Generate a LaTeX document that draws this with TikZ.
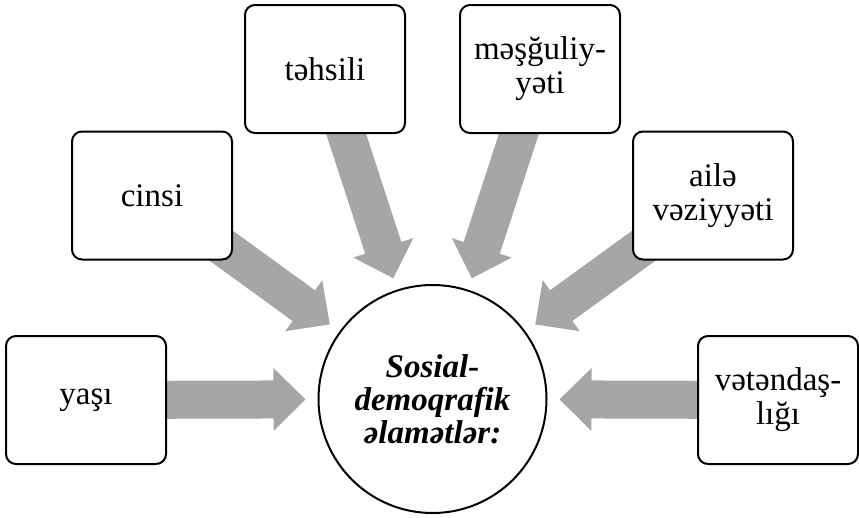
\documentclass[tikz,border=0pt]{standalone}
\usepackage{fontspec}
\setmainfont{Liberation Serif}
\usetikzlibrary{calc,backgrounds}
\definecolor{arrowgray}{HTML}{A6A6A6}
\tikzset{
  itembox/.style={draw=black, line width=2pt, rounded corners=10pt, fill=white,
    minimum width=160pt, minimum height=128pt, align=center, inner sep=2pt,
    font=\fontsize{33}{34}\selectfont},
  hubcircle/.style={draw=black, line width=2pt, circle, fill=white, minimum size=228pt,
    align=center, inner sep=0pt, font=\fontsize{33}{33}\selectfont\bfseries\itshape},
}
\newcommand\radarrow[1]{%
  \coordinate (t#1) at ($(hub.center)!127pt!(#1.center)$);
  \coordinate (h#1) at ($(t#1)!32pt!(#1.center)$);
  \fill[arrowgray] ($(#1.center)!19pt!90:(t#1)$) -- ($(h#1)!19pt!90:(t#1)$)
    -- ($(h#1)!31.5pt!90:(t#1)$) -- (t#1) -- ($(h#1)!31.5pt!-90:(t#1)$)
    -- ($(h#1)!19pt!-90:(t#1)$) -- ($(#1.center)!19pt!-90:(t#1)$) -- cycle;}
\begin{document}
\begin{tikzpicture}[x=1pt, y=-1pt]
\useasboundingbox (0,0) rectangle (859,517);
\node[hubcircle] (hub) at (432.5,399) {Sosial-\\demoqrafik\\əlamətlər:};
\node[itembox] (yasi) at (86,400) {yaşı};
\node[itembox] (cinsi) at (152,195.5) {cinsi};
\node[itembox] (tehsili) at (325,69) {təhsili};
\node[itembox] (mesg) at (540,69) {məşğuliy-\\yəti};
\node[itembox] (aile) at (713,195.5) {ailə\\vəziyyəti};
\node[itembox] (vet) at (778,400) {vətəndaş-\\lığı};
\begin{scope}[on background layer]
\radarrow{yasi}
\radarrow{cinsi}
\radarrow{tehsili}
\radarrow{mesg}
\radarrow{aile}
\radarrow{vet}
\end{scope}
\end{tikzpicture}
\end{document}
